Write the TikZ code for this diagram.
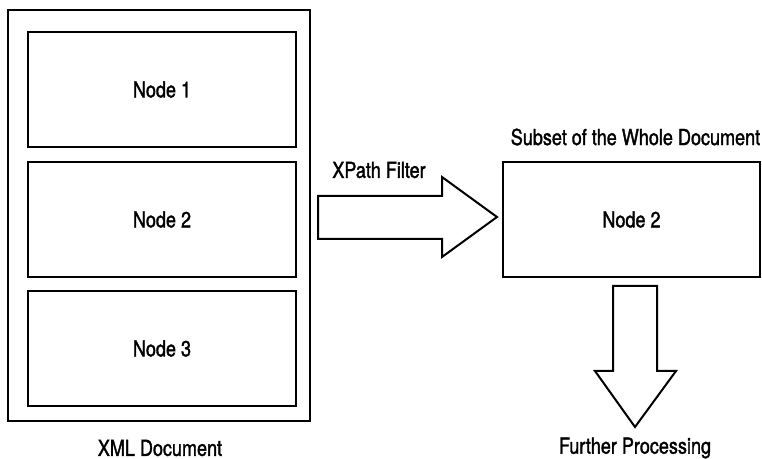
\documentclass[tikz,border=0pt]{standalone}
\usepackage{fontspec}
\setmainfont[FakeStretch=0.82,FakeBold=1.5]{TeX Gyre Heros}
\usetikzlibrary{calc}
\tikzstyle{partbox} = [draw,rectangle,line width=1pt,minimum width=134pt,minimum height=57.5pt,inner sep=0pt,font=\fontsize{11}{13}\selectfont]
\tikzstyle{docbox} = [draw,rectangle,line width=1pt,minimum width=151pt,minimum height=205.5pt,inner sep=0pt]
\tikzstyle{caption} = [font=\fontsize{11}{13}\selectfont,inner sep=1pt]
\tikzstyle{blockarrow} = [draw,line width=1pt,line join=miter,fill=white]

\begin{document}
\begin{tikzpicture}[x=0.5pt,y=-0.5pt]
		\useasboundingbox (0,0) rectangle (762,459);

		\node[docbox] (doc) at (159,215.5) {};
		\node[partbox] (n1) at (162,89.5) {Node 1};
		\node[partbox] (n2) at (162,219.5) {Node 2};
		\node[partbox] (n3) at (162,348.5) {Node 3};
		\node[caption] (doclabel) at (160,448) {XML Document};

		\node[partbox,minimum width=128.5pt] (sub) at (631.5,219.5) {Node 2};
		\node[caption] (sublabel) at (635.5,137) {Subset of the Whole Document};
		\node[caption] (proc) at (635,448) {Further Processing};
		\node[caption] (filter) at (379,170) {XPath Filter};

		\coordinate (xtip) at (497,217);
		\coordinate (ptip) at (635,427);

		% hollow arrows
		\draw[blockarrow] (xtip) -- ++(-55,-40) -- ++(0,19) -- ++(-124,0) -- ++(0,43) -- ++(124,0) -- ++(0,18) -- cycle;
		\draw[blockarrow] (ptip) -- ++(-40,-56) -- ++(18,0) -- ++(0,-85) -- ++(44,0) -- ++(0,85) -- ++(19,0) -- cycle;
	\end{tikzpicture}
\end{document}
